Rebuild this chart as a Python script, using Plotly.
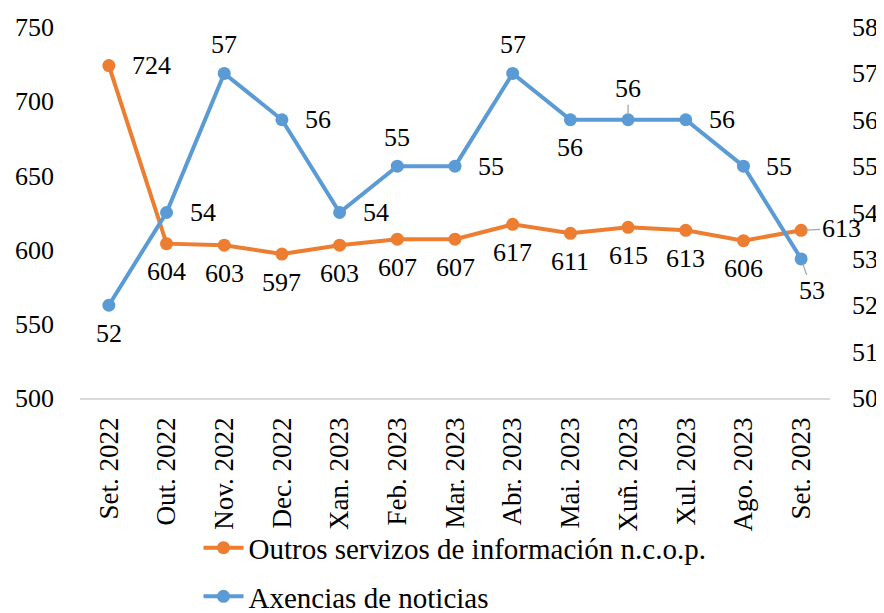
import plotly.graph_objects as go

categories = ["Set. 2022", "Out. 2022", "Nov. 2022", "Dec. 2022", "Xan. 2023", "Feb. 2023",
              "Mar. 2023", "Abr. 2023", "Mai. 2023", "Xuñ. 2023", "Xul. 2023", "Ago. 2023", "Set. 2023"]
outros = [724, 604, 603, 597, 603, 607, 607, 617, 611, 615, 613, 606, 613]
axencias = [52, 54, 57, 56, 54, 55, 55, 57, 56, 56, 56, 55, 53]
name_outros = "Outros servizos de información n.c.o.p."
name_axencias = "Axencias de noticias"

# label placement (style only)
pos_outros = ["r", "b", "b", "b", "b", "b", "b", "b", "b", "b", "b", "b", "lead_r"]
pos_axencias = ["b", "r", "t", "r", "r", "t", "r", "t", "b", "lead_t", "r", "r", "lead_b"]

ORANGE = "#ED7D31"
BLUE = "#5B9BD5"
FONT = "Liberation Serif"
FS = 26

fig = go.Figure()
fig.add_trace(go.Scatter(x=categories, y=outros, name=name_outros, mode="lines+markers",
                         line=dict(color=ORANGE, width=4), marker=dict(size=13, color=ORANGE),
                         legendgroup="a", yaxis="y"))
fig.add_trace(go.Scatter(x=categories, y=axencias, name=name_axencias, mode="lines+markers",
                         line=dict(color=BLUE, width=4), marker=dict(size=13, color=BLUE),
                         legendgroup="b", yaxis="y2"))

anns = []
for vals, poss, yref in [(outros, pos_outros, "y"), (axencias, pos_axencias, "y2")]:
    for c, v, p in zip(categories, vals, poss):
        base = dict(x=c, y=v, xref="x", yref=yref, text=str(v),
                    font=dict(family=FONT, size=FS, color="black"))
        if p == "r":
            anns.append(dict(base, showarrow=False, xanchor="left", xshift=21, yshift=0))
        elif p == "b":
            anns.append(dict(base, showarrow=False, yshift=-28))
        elif p == "t":
            anns.append(dict(base, showarrow=False, yshift=29))
        else:
            if p == "lead_r":
                ax, ay = 40, -2
            elif p == "lead_t":
                ax, ay = 0, -31
            else:
                ax, ay = 11, 32
            anns.append(dict(base, showarrow=True, arrowhead=0, arrowwidth=1.3,
                             arrowcolor="#a6a6a6", standoff=5, ax=ax, ay=ay))

fig.update_layout(
    width=876, height=605,
    margin=dict(l=72, r=54, t=19, b=215, autoexpand=False),
    paper_bgcolor="white", plot_bgcolor="white",
    font=dict(family=FONT, size=FS, color="black"),
    showlegend=True,
    legend=dict(orientation="v", x=0.158, y=-0.335, xanchor="left", yanchor="top",
                traceorder="grouped", tracegroupgap=8, itemwidth=40,
                font=dict(family=FONT, size=29, color="black"), bgcolor="rgba(0,0,0,0)"),
    xaxis=dict(type="category", range=[-0.5, 12.5], tickangle=-90, showgrid=False,
               zeroline=False, showline=True, linecolor="#d9d9d9", linewidth=1.5, ticks="",
               ticklabelstandoff=7, automargin=False, tickfont=dict(family=FONT, size=27)),
    yaxis=dict(range=[500, 750], dtick=50, showgrid=False, zeroline=False, showline=False,
               ticks="", ticklabelstandoff=25, automargin=False,
               tickfont=dict(family=FONT, size=FS)),
    yaxis2=dict(range=[50, 58], dtick=1, overlaying="y", side="right", showgrid=False,
                zeroline=False, showline=False, ticks="", ticklabelstandoff=21,
                automargin=False, tickfont=dict(family=FONT, size=FS)),
    annotations=anns,
)

fig.write_html("out.html")
